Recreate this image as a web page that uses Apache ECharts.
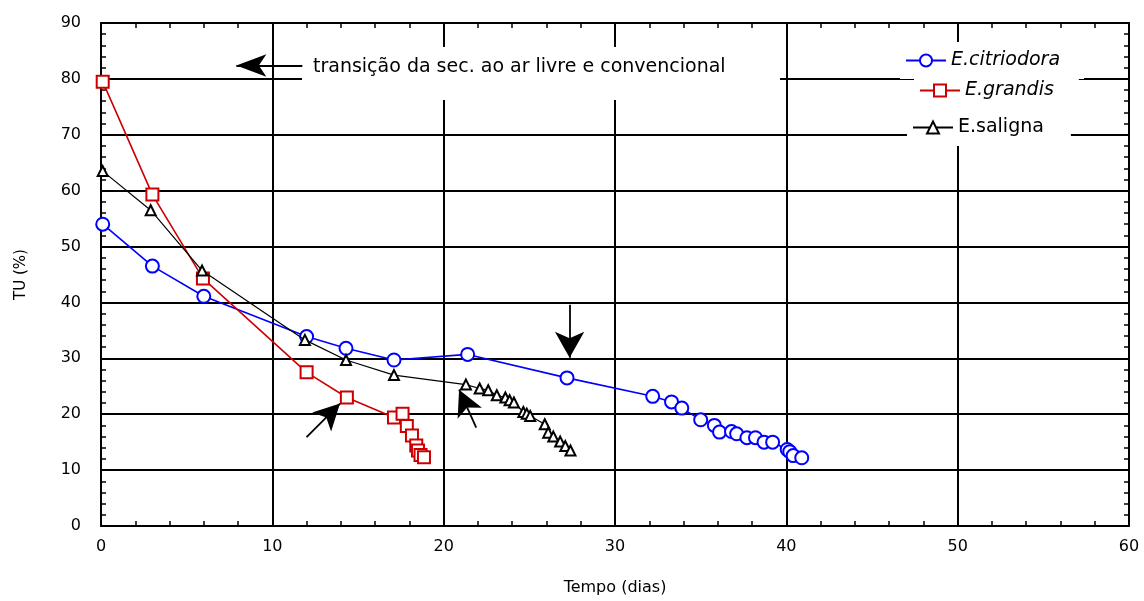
<!DOCTYPE html>
<html><head><meta charset="utf-8">
<script src="https://cdn.jsdelivr.net/npm/echarts@6/dist/echarts.min.js"></script>
<style>html,body{margin:0;padding:0;background:#fff}#c{width:1144px;height:601px}</style>
</head><body><div id="c"></div>
<script>
// ---- data ----
const citriodoraX = [0.1, 3.0, 6.0, 12.0, 14.3, 17.1, 21.4, 27.2, 32.2, 33.3, 33.9, 35.0, 35.8, 36.1, 36.8, 37.1, 37.7, 38.2, 38.7, 39.2, 40.05, 40.2, 40.4, 40.9];
const citriodoraY = [54.0, 46.5, 41.1, 33.9, 31.8, 29.7, 30.7, 26.5, 23.2, 22.2, 21.1, 19.0, 18.0, 16.8, 16.9, 16.5, 15.8, 15.8, 15.0, 15.0, 13.7, 13.3, 12.6, 12.2];
const grandisX = [0.1, 3.0, 5.95, 12.0, 14.35, 17.1, 17.6, 17.85, 18.15, 18.4, 18.5, 18.65, 18.85];
const grandisY = [79.5, 59.3, 44.3, 27.5, 23.0, 19.4, 20.1, 17.9, 16.2, 14.4, 13.5, 12.7, 12.3];
const salignaX = [0.1, 2.9, 5.9, 11.9, 14.3, 17.1, 21.3, 22.1, 22.6, 23.1, 23.6, 23.85, 24.1, 24.65, 24.85, 25.05, 25.9, 26.1, 26.4, 26.8, 27.1, 27.4];
const salignaY = [63.5, 56.5, 45.7, 33.3, 29.7, 27.0, 25.3, 24.6, 24.3, 23.4, 23.0, 22.5, 22.1, 20.4, 20.1, 19.7, 18.2, 16.7, 16.0, 15.1, 14.3, 13.5];
const seriesNames = ['E.citriodora', 'E.grandis', 'E.saligna'];
const arrowFrom = [[11.75, 82.4], [27.35, 39.6], [12.0, 15.9], [21.9, 17.6]];
const arrowTo   = [[7.9, 82.4],  [27.35, 30.1], [13.95, 21.9], [20.9, 24.4]];
const noteText = 'transição da sec. ao ar livre e convencional';
const xTitle = 'Tempo (dias)';
const yTitle = 'TU (%)';

const zip = (xs, ys) => xs.map((x, i) => [x, ys[i]]);
const FONT = 'DejaVu Sans';
const arrowSizes = [[17, 30], [22, 26], [20, 26], [20, 26]];

const chart = echarts.init(document.getElementById('c'), null, {renderer: 'canvas'});

function axisCommon(extra) {
  return Object.assign({
    type: 'value',
    axisLine: {show: true, onZero: false, lineStyle: {color: '#000', width: 2}},
    axisTick: {show: true, inside: true, length: 6, lineStyle: {color: '#000', width: 1.5}},
    minorTick: {show: true, splitNumber: 5, length: 5, lineStyle: {color: '#000', width: 1.5}},
  }, extra);
}

const option = {
  animation: false,
  backgroundColor: '#fff',
  grid: {left: 101, right: 15, top: 23, bottom: 71, containLabel: false},
  xAxis: [
    axisCommon({
      min: 0, max: 60, interval: 10, position: 'bottom',
      name: xTitle, nameLocation: 'middle', nameGap: 54,
      nameTextStyle: {fontFamily: FONT, fontSize: 16, color: '#000'},
      axisLabel: {margin: 13, fontFamily: FONT, fontSize: 16, color: '#000'},
      splitLine: {show: true, lineStyle: {color: '#000', width: 2}}
    }),
    axisCommon({
      min: 0, max: 60, interval: 10, position: 'top',
      axisLabel: {show: false}, splitLine: {show: false}
    })
  ],
  yAxis: [
    axisCommon({
      min: 0, max: 90, interval: 10, position: 'left',
      name: yTitle, nameLocation: 'middle', nameGap: 72,
      nameTextStyle: {fontFamily: FONT, fontSize: 15, color: '#000'},
      axisLabel: {margin: 20, fontFamily: FONT, fontSize: 16, color: '#000'},
      splitLine: {show: true, lineStyle: {color: '#000', width: 2}}
    }),
    axisCommon({
      min: 0, max: 90, interval: 10, position: 'right',
      axisLabel: {show: false}, splitLine: {show: false}
    })
  ],
  legend: [
    {data: [seriesNames[0]], left: 900, top: 42, padding: [9, 24, 9, 5], itemWidth: 40, itemHeight: 15,
     backgroundColor: '#fff', textStyle: {fontFamily: FONT, fontSize: 19, fontStyle: 'italic', color: '#000'}},
    {data: [seriesNames[1]], left: 914, top: 72, padding: [9, 25, 9, 5], itemWidth: 40, itemHeight: 15,
     backgroundColor: '#fff', textStyle: {fontFamily: FONT, fontSize: 19, fontStyle: 'italic', color: '#000'}},
    {data: [seriesNames[2]], left: 907, top: 109, padding: [9, 27, 9, 5], itemWidth: 40, itemHeight: 15,
     backgroundColor: '#fff', textStyle: {fontFamily: FONT, fontSize: 19, color: '#000'}}
  ],
  graphic: [
    {type: 'rect', left: 302, top: 47, shape: {width: 478, height: 53}, style: {fill: '#fff'}, z: 1, silent: true},
    {type: 'text', left: 313, top: 58, z: 2, silent: true,
     style: {text: noteText, font: '19px "DejaVu Sans"', fill: '#000'}}
  ],
  series: [
    {name: seriesNames[0], type: 'line', data: zip(citriodoraX, citriodoraY),
     symbol: 'emptyCircle', symbolSize: 13, color: '#0000ff',
     lineStyle: {color: '#0000ff', width: 1.6}, itemStyle: {color: '#0000ff', borderWidth: 2}, z: 3},
    {name: seriesNames[1], type: 'line', data: zip(grandisX, grandisY),
     symbol: 'emptyRect', symbolSize: 12, color: '#cc0000',
     lineStyle: {color: '#cc0000', width: 1.6}, itemStyle: {color: '#cc0000', borderWidth: 2}, z: 3},
    {name: seriesNames[2], type: 'line', data: zip(salignaX, salignaY),
     symbol: 'emptyTriangle', symbolSize: 10, color: '#000',
     lineStyle: {color: '#000', width: 1.2}, itemStyle: {color: '#000', borderWidth: 2}, z: 4,
     markLine: {
       silent: true, animation: false,
       symbol: ['none', 'arrow'],
       label: {show: false},
       lineStyle: {color: '#000', width: 1.8, type: 'solid'},
       emphasis: {disabled: true},
       data: arrowFrom.map((f, i) => [
         {coord: f, symbol: 'none'},
         {coord: arrowTo[i], symbol: 'arrow', symbolSize: arrowSizes[i]}
       ])
     }}
  ]
};
chart.setOption(option);
</script>
</body></html>
